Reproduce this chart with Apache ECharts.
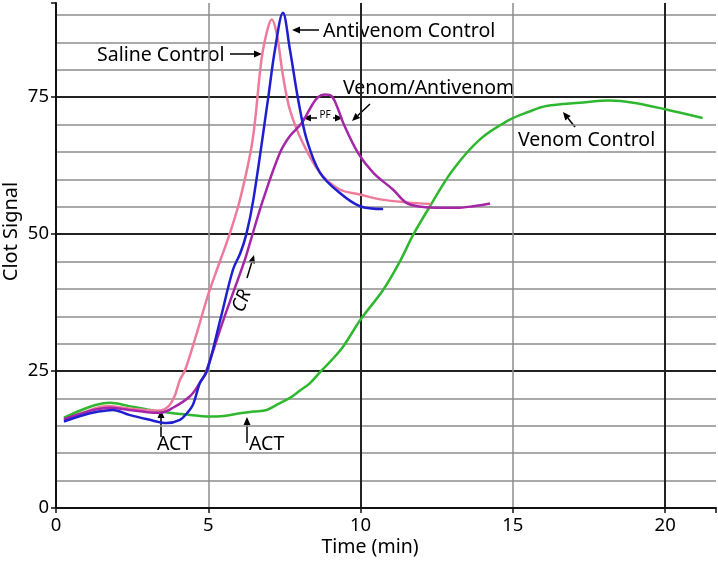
<!DOCTYPE html>
<html>
<head>
<meta charset="utf-8">
<script src="https://cdn.jsdelivr.net/npm/echarts@6/dist/echarts.min.js"></script>
<style>
html,body{margin:0;padding:0;background:#fff;}
#chart{width:718px;height:561px;}
</style>
</head>
<body>
<div id="chart"></div>
<script>
// ---- data (time in minutes, clot signal) ----
const salineControl = [
  [0.26,16.1],[0.8,17.2],[1.3,18.2],[1.7,18.6],[2.3,18.2],[2.9,17.9],[3.4,17.8],[3.7,18.6],
  [3.9,20.5],[4.07,23.4],[4.24,25.2],[4.6,31.5],[5.0,39],[5.38,45],[5.7,50],[6.05,56.5],
  [6.45,67],[6.75,82],[6.95,87.5],[7.08,89.2],[7.25,86.5],[7.45,79],[7.68,72.7],[8.1,66.7],
  [8.67,61.2],[9.3,58.2],[10.0,57.2],[10.7,56.3],[11.5,55.8],[12.3,55.5]
];
const antivenomControl = [
  [0.26,15.8],[0.8,16.8],[1.4,17.6],[1.87,17.9],[2.4,17.0],[3.0,16.2],[3.63,15.5],[4.07,16.1],
  [4.3,17.3],[4.5,18.9],[4.73,22.9],[4.95,24.9],[5.4,34.5],[5.81,43.5],[6.05,46.5],[6.25,50],
  [6.48,56.3],[6.96,74.6],[7.19,83.7],[7.45,90.4],[7.68,83.7],[7.95,74.6],[8.23,67.3],
  [8.67,61.2],[9.32,57.5],[9.98,55.1],[10.74,54.6]
];
const venomAntivenom = [
  [0.26,16.2],[0.8,17.2],[1.3,18.0],[1.77,18.3],[2.4,17.9],[3.0,17.5],[3.41,17.4],[3.84,18.3],
  [4.4,20.4],[4.73,22.9],[4.9,24.5],[5.5,34.4],[6.2,45.3],[6.4,49],[6.8,56.3],[7.35,64.8],
  [7.68,67.9],[8.07,70.3],[8.39,73.4],[8.6,75],[8.83,75.5],[9.05,75.2],[9.25,73],[9.43,70.3],
  [9.92,64.8],[10.42,61.2],[11.07,58.1],[11.51,55.7],[12.0,55.0],[12.6,54.8],[13.15,54.8],
  [13.7,55.1],[14.25,55.6]
];
const venomControl = [
  [0.26,16.5],[0.8,17.8],[1.3,18.8],[1.77,19.2],[2.4,18.6],[3.0,18.0],[3.41,17.6],[3.84,17.3],
  [4.4,17.0],[4.95,16.7],[5.5,16.8],[6.04,17.3],[6.5,17.6],[6.92,17.9],[7.3,19.0],[7.68,20.1],
  [8.0,21.4],[8.34,22.8],[8.67,24.8],[9.05,27.0],[9.43,29.5],[10.0,34.4],[10.75,39.9],
  [11.29,45.0],[11.73,49.9],[12.28,55.1],[13.0,61.5],[13.92,67.3],[14.9,70.9],[15.5,72.3],
  [16.1,73.4],[17.2,74.0],[18.19,74.4],[18.95,74.0],[20.0,72.8],[21.23,71.2]
];
const xTickLabels = [0,5,10,15,20];
const yTickLabels = [0,25,50,75];

const FONT = 'Noto Sans';
const chart = echarts.init(document.getElementById('chart'));

function arrow(x1,y1,x2,y2){
  const dx = x2-x1, dy = y2-y1, L = Math.sqrt(dx*dx+dy*dy);
  const ux = dx/L, uy = dy/L, h = 8, w = 3.5;
  const bx = x2-ux*h, by = y2-uy*h;
  return [
    {type:'line', shape:{x1:x1,y1:y1,x2:bx,y2:by}, style:{stroke:'#000',lineWidth:1.5}, silent:true},
    {type:'polygon', shape:{points:[[x2,y2],[bx-uy*w,by+ux*w],[bx+uy*w,by-ux*w]]}, style:{fill:'#000'}, silent:true}
  ];
}
function label(text,x,y,opts){
  return Object.assign({type:'text', x:x, y:y, silent:true,
    style:Object.assign({text:text, fill:'#000', font:'19.5px "'+FONT+'"', textVerticalAlign:'middle'}, (opts||{}))});
}

const graphics = [].concat(
  label('Saline Control',97,55),
  arrow(230,54,262,54),
  label('Antivenom Control',323,31),
  arrow(319,30,292,30),
  label('Venom/Antivenom',343,88),
  arrow(370,104,352,121),
  label('PF',325,115,{font:'10px "'+FONT+'"', textAlign:'center'}),
  arrow(317,118,303,118),
  arrow(333,118,343,118),
  label('Venom Control',518,140),
  arrow(575,127,563,112),
  [{type:'text', x:242, y:301, rotation:70*Math.PI/180, silent:true,
    style:{text:'CR', fill:'#000', font:'italic 19px "'+FONT+'"', textAlign:'center', textVerticalAlign:'middle'}}],
  arrow(247,278,254,255),
  label('ACT',157,444),
  arrow(161,437,161,410),
  label('ACT',249,444),
  arrow(247,443,247,417)
);

const XMAX = 21.67, YMAX = 92.2;
const option = {
  animation:false,
  backgroundColor:'#fff',
  grid:{left:56,right:2,top:3,bottom:53,containLabel:false,outerBoundsMode:'none'},
  xAxis:[
    {type:'value', min:0, max:XMAX, interval:5, position:'bottom',
     name:'Time (min)', nameLocation:'middle', nameGap:29, nameMoveOverlap:false,
     nameTextStyle:{fontFamily:FONT,fontSize:19.5,color:'#000',padding:[0,32,0,0]},
     axisLine:{show:true,onZero:false,lineStyle:{color:'#111',width:2}},
     axisTick:{show:true,length:5,lineStyle:{color:'#111',width:1.5}},
     axisLabel:{fontFamily:FONT,fontSize:18.5,color:'#000',margin:8,
       formatter:v=>xTickLabels.indexOf(Math.round(v*1000)/1000)>=0?String(v):''},
     splitLine:{show:true,showMinLine:false,showMaxLine:false,lineStyle:{color:'#8c8c8c',width:1.5}}},
    {type:'value', min:0, max:XMAX, interval:10, position:'bottom',
     axisLine:{show:false}, axisTick:{show:false}, axisLabel:{show:false},
     splitLine:{show:true,showMinLine:false,showMaxLine:false,lineStyle:{color:'#222',width:2}}}
  ],
  yAxis:[
    {type:'value', min:0, max:YMAX, interval:5, position:'left',
     axisLine:{show:false}, axisTick:{show:false}, axisLabel:{show:false},
     splitLine:{show:true,showMinLine:false,showMaxLine:false,lineStyle:{color:'#8c8c8c',width:1.5}}},
    {type:'value', min:0, max:YMAX, interval:25, position:'left',
     name:'Clot Signal', nameLocation:'middle', nameGap:35, nameMoveOverlap:false,
     nameTextStyle:{fontFamily:FONT,fontSize:20,color:'#000',padding:[0,0,0,48]},
     axisLine:{show:true,onZero:false,lineStyle:{color:'#111',width:2}},
     axisTick:{show:true,length:5,lineStyle:{color:'#111',width:1.5}},
     axisLabel:{fontFamily:FONT,fontSize:18.5,color:'#000',margin:7,
       formatter:v=>yTickLabels.indexOf(Math.round(v*1000)/1000)>=0?String(v):''},
     splitLine:{show:true,showMinLine:false,showMaxLine:false,lineStyle:{color:'#222',width:2}}}
  ],
  series:[
    {name:'Venom Control',type:'line',data:venomControl,smooth:0.35,showSymbol:false,
     lineStyle:{color:'#2fb82f',width:2.5}},
    {name:'Saline Control',type:'line',data:salineControl,smooth:0.35,showSymbol:false,
     lineStyle:{color:'#ee7b9c',width:2.5}},
    {name:'Venom/Antivenom',type:'line',data:venomAntivenom,smooth:0.35,showSymbol:false,
     lineStyle:{color:'#a626a8',width:2.5}},
    {name:'Antivenom Control',type:'line',data:antivenomControl,smooth:0.35,showSymbol:false,
     lineStyle:{color:'#1f1fd0',width:2.5}}
  ],
  graphic:graphics
};
chart.setOption(option);
</script>
</body>
</html>
